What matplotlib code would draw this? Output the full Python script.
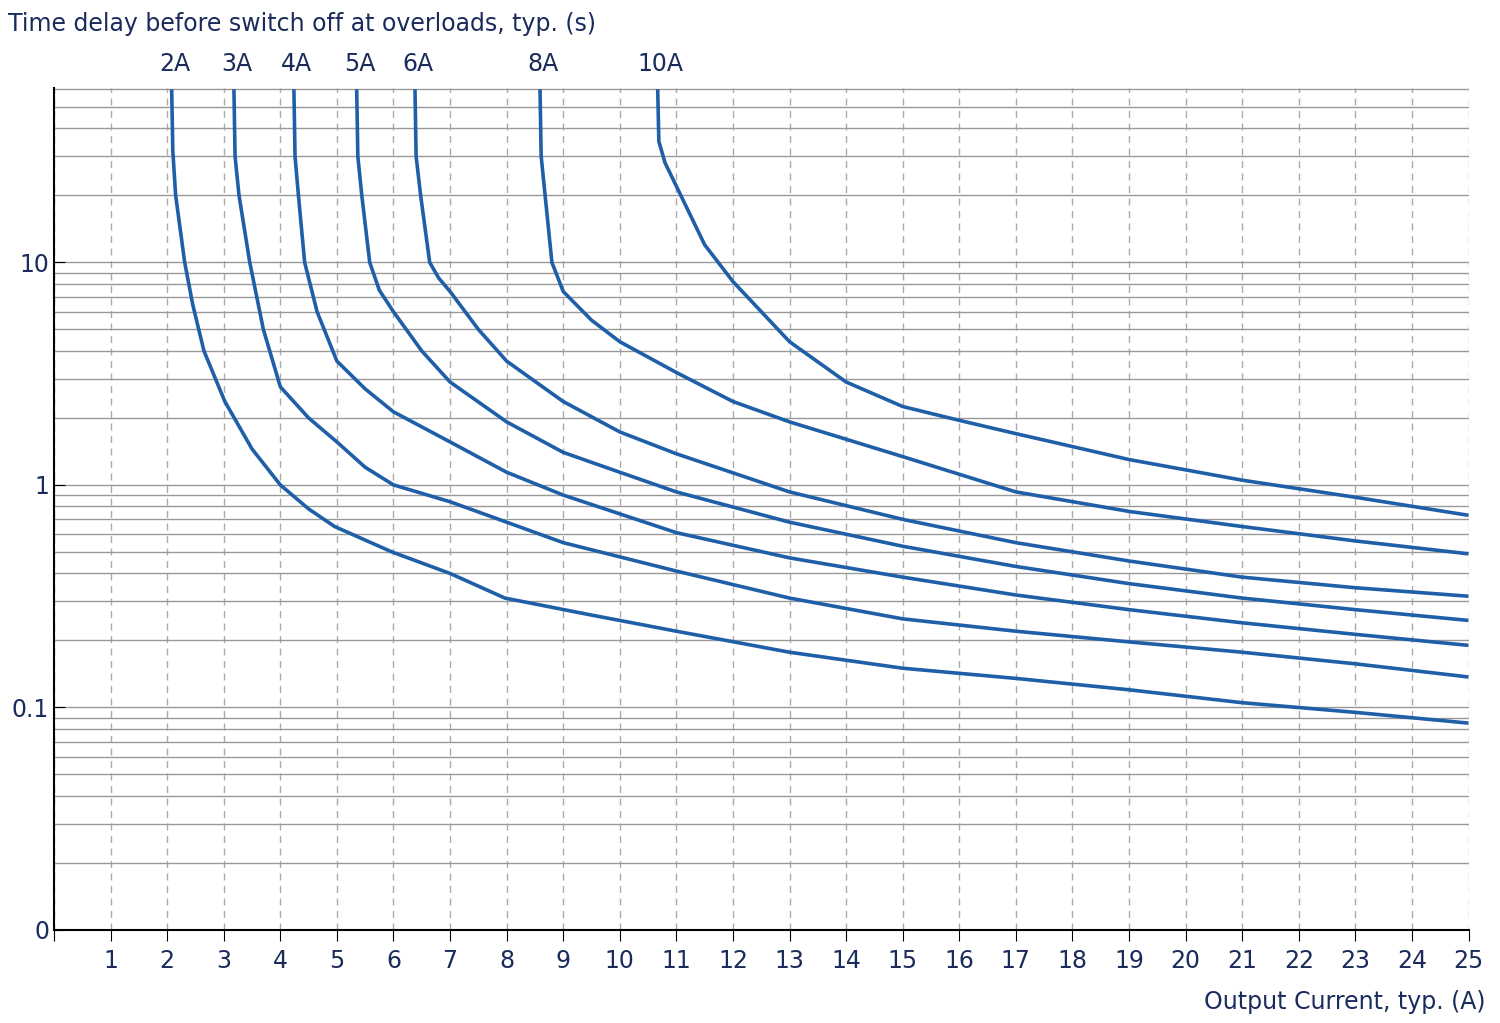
import matplotlib
matplotlib.use("Agg")
import matplotlib.pyplot as plt

# x = output current (A), y = time delay (s); one pair of arrays per fuse rating
curve_labels = ["2A", "3A", "4A", "5A", "6A", "8A", "10A"]

x_2a = [2.08, 2.1, 2.15, 2.31, 2.45, 2.65, 3.02, 3.5, 4.0, 4.5, 4.96, 5.97, 7.0, 7.97, 9.5, 11, 13, 15, 17, 19, 21, 23, 25]
y_2a = [60, 31.6, 20, 10, 6.5, 4.0, 2.37, 1.45, 1.0, 0.78, 0.65, 0.50, 0.40, 0.31, 0.26, 0.22, 0.177, 0.15, 0.135, 0.12, 0.105, 0.095, 0.085]

x_3a = [3.18, 3.2, 3.27, 3.46, 3.7, 4.0, 4.5, 5, 5.5, 6, 7, 8, 9, 11, 13, 15, 17, 19, 21, 23, 25]
y_3a = [60, 30, 20, 10, 5.0, 2.76, 2.0, 1.56, 1.2, 1.0, 0.84, 0.68, 0.55, 0.41, 0.31, 0.25, 0.22, 0.197, 0.177, 0.157, 0.137]

x_4a = [4.24, 4.26, 4.32, 4.43, 4.65, 5, 5.5, 6, 7, 8, 9, 11, 13, 15, 17, 19, 21, 23, 25]
y_4a = [60, 30, 20, 10, 6.0, 3.6, 2.7, 2.13, 1.56, 1.14, 0.90, 0.61, 0.47, 0.385, 0.32, 0.275, 0.24, 0.213, 0.19]

x_5a = [5.35, 5.37, 5.44, 5.58, 5.75, 6, 6.5, 7, 8, 9, 10, 11, 13, 15, 17, 19, 21, 23, 25]
y_5a = [60, 30, 20, 10, 7.5, 6.0, 4.0, 2.9, 1.92, 1.4, 1.14, 0.93, 0.68, 0.53, 0.43, 0.36, 0.31, 0.275, 0.246]

x_6a = [6.38, 6.4, 6.48, 6.64, 6.8, 7, 7.5, 8, 9, 10, 11, 13, 15, 17, 19, 21, 23, 25]
y_6a = [60, 30, 20, 10, 8.5, 7.4, 5.0, 3.6, 2.37, 1.73, 1.38, 0.93, 0.70, 0.55, 0.455, 0.385, 0.345, 0.316]

x_8a = [8.59, 8.61, 8.68, 8.8, 9, 9.5, 10, 11, 12, 13, 15, 17, 19, 21, 23, 25]
y_8a = [60, 30, 20, 10, 7.4, 5.5, 4.4, 3.2, 2.37, 1.92, 1.34, 0.93, 0.76, 0.65, 0.56, 0.49]

x_10a = [10.67, 10.69, 10.8, 11, 11.5, 12, 13, 14, 15, 16, 17, 19, 21, 23, 25]
y_10a = [60, 35, 28, 22, 12, 8.2, 4.4, 2.9, 2.25, 1.95, 1.7, 1.3, 1.05, 0.88, 0.73]

curves_x = [x_2a, x_3a, x_4a, x_5a, x_6a, x_8a, x_10a]
curves_y = [y_2a, y_3a, y_4a, y_5a, y_6a, y_8a, y_10a]

text_col = "#1a2b5c"
line_col = "#1f5fa8"

fig = plt.figure(figsize=(15, 10.23), dpi=100)
ax = fig.add_axes([0.036, 0.091, 0.943, 0.823])
ax.set_yscale("log")

for xs, ys, lab in zip(curves_x, curves_y, curve_labels):
    ax.plot(xs, ys, color=line_col, lw=2.6, solid_capstyle="butt", solid_joinstyle="round")
    ax.text(xs[0] + 0.05, 1.014, lab, transform=ax.get_xaxis_transform(),
            ha="center", va="bottom", fontsize=17, color=text_col)

ax.set_xticks(range(0, 26))
ax.set_xticklabels([""] + [str(i) for i in range(1, 26)])
ax.set_yticks([0.01, 0.1, 1, 10])
ax.set_yticklabels(["0", "0.1", "1", "10"])
ax.set_yticks([m * 10.0 ** e for e in range(-2, 2) for m in range(2, 10)], minor=True)
ax.set_xlim(0, 25)
ax.set_ylim(0.01, 60.8)
ax.tick_params(axis="y", which="minor", length=0)
ax.tick_params(axis="both", which="major", labelsize=17, labelcolor=text_col,
               length=8, direction="in", color="black")
ax.tick_params(axis="x", direction="out", pad=6)

ax.grid(axis="x", which="major", ls=(0, (5, 4)), color="#aaaaaa", lw=1)
ax.grid(axis="y", which="both", color="#999999", lw=1)
ax.set_axisbelow(True)
for s in ["top", "right"]:
    ax.spines[s].set_visible(False)
ax.spines["left"].set_linewidth(1.5)
ax.spines["bottom"].set_linewidth(1.5)

fig.text(0.005, 0.977, "Time delay before switch off at overloads, typ. (s)",
         fontsize=17, color=text_col, va="center")
fig.text(0.99, 0.021, "Output Current, typ. (A)", fontsize=17, color=text_col,
         ha="right", va="center")

fig.savefig("out.png", dpi=100)
